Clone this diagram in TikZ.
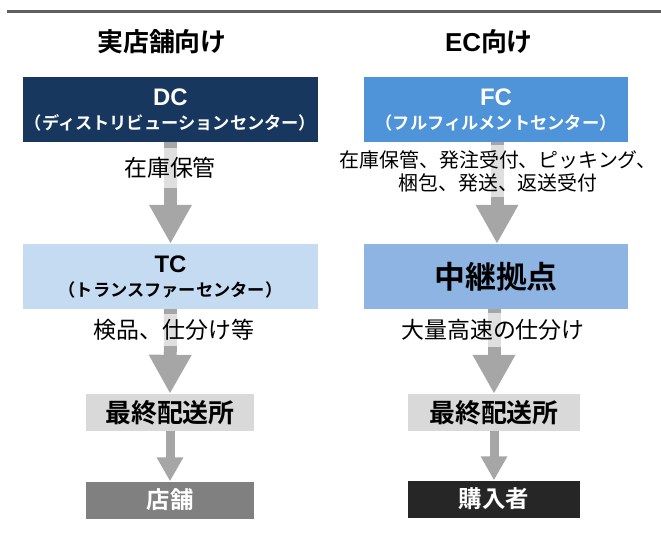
\documentclass[tikz,border=0pt]{standalone}
\usepackage{fontspec}
\setmainfont{Noto Sans CJK JP}[BoldFont={Noto Sans CJK JP Bold}]
\newfontfamily\latinsans{Liberation Sans}
\usetikzlibrary{arrows.meta}
\definecolor{dcblue}{HTML}{17375E}
\definecolor{fcblue}{HTML}{4F93D9}
\definecolor{tcblue}{HTML}{C5DBF1}
\definecolor{relay}{HTML}{8DB4E2}
\definecolor{lgray}{HTML}{D9D9D9}
\definecolor{mgray}{HTML}{808080}
\definecolor{dgray}{HTML}{262626}
\definecolor{arrgray}{HTML}{A6A6A6}
\definecolor{rulegray}{HTML}{606060}
\tikzset{
  bigbox/.style={minimum width=295bp, minimum height=65bp, inner sep=0pt},
  smallbox/.style={minimum width=168bp, minimum height=37bp, inner sep=0pt},
  boxtitle/.style={inner sep=0pt, font=\latinsans\bfseries\fontsize{24}{26}\selectfont},
  boxsub/.style={inner sep=0pt, font=\bfseries\fontsize{17.3}{19}\selectfont},
  smalltext/.style={font=\bfseries\fontsize{26}{28}\selectfont},
  endtext/.style={font=\bfseries\fontsize{23.5}{26}\selectfont},
  bigarrow/.style={draw=arrgray, line width=13bp, -{Triangle[width=40bp,length=39bp]}},
  smallarrow/.style={draw=arrgray, line width=9bp, -{Triangle[width=25bp,length=24bp]}},
  steplabel/.style={fill=white, fill opacity=0.65, text opacity=1, inner xsep=2bp, inner ysep=0pt, align=center, font=\fontsize{23}{25}\selectfont},
  header/.style={font=\bfseries\fontsize{26}{28}\selectfont},
}
\begin{document}
\begin{tikzpicture}[x=1bp,y=-1bp]
\useasboundingbox (0,0) rectangle (661,536);
\coordinate (rl) at (7,12);
\coordinate (rr) at (661,12);
\draw[rulegray, line width=3bp] (rl) -- (rr);
\node[header] (h1) at (162,42) {実店舗向け};
\node[header] (h2) at (489,42) {{\latinsans EC}向け};
% left column
\node[bigbox, fill=dcblue] (dc) at (170.5,109.5) {};
\node[boxtitle, text=white] (dct) at (170.5,97) {DC};
\node[boxsub, text=white] (dcs) at (170.5,123) {（ディストリビューションセンター）};
\node[bigbox, fill=tcblue] (tc) at (170.5,276.5) {};
\node[boxtitle, text=black] (tct) at (170.5,264) {TC};
\node[boxsub, text=black] (tcs) at (170.5,290) {（トランスファーセンター）};
\node[smallbox, fill=lgray, text=black, smalltext] (l3) at (170,412.5) {最終配送所};
\node[smallbox, fill=mgray, text=white, endtext] (l4) at (170,500) {店舗};
% right column
\node[bigbox, minimum width=264bp, fill=fcblue] (fc) at (496,109.5) {};
\node[boxtitle, text=white] (fct) at (496,97) {FC};
\node[boxsub, text=white] (fcs) at (496,123) {（フルフィルメントセンター）};
\node[bigbox, minimum width=264bp, fill=relay, text=black, font=\bfseries\fontsize{31}{33}\selectfont] (relay) at (496,276.5) {中継拠点};
\node[smallbox, minimum width=172bp, fill=lgray, text=black, smalltext] (r3) at (494,412.5) {最終配送所};
\node[smallbox, minimum width=172bp, fill=dgray, text=white, endtext] (r4) at (494,499) {購入者};
% arrows
\draw[bigarrow] (dc.south) -- (tc.north);
\draw[bigarrow] (tc.south) -- (l3.north);
\draw[smallarrow] (l3.south) -- (l4.north);
\draw[bigarrow] (fc.south -| 497,0) -- (relay.north -| 497,0);
\draw[bigarrow] (relay.south -| 494,0) -- (r3.north);
\draw[smallarrow] (r3.south) -- (r4.north);
% labels
\node[steplabel, minimum height=40bp] (t1) at (170,168) {在庫保管};
\node[steplabel, minimum height=32bp] (t2) at (174,330) {検品、仕分け等};
\node[steplabel, minimum height=52bp, font=\fontsize{20}{23}\selectfont] (t3) at (498,171) {在庫保管、発注受付、ピッキング、\\梱包、発送、返送受付};
\node[steplabel, minimum height=34bp] (t4) at (493,330) {大量高速の仕分け};
\end{tikzpicture}
\end{document}
